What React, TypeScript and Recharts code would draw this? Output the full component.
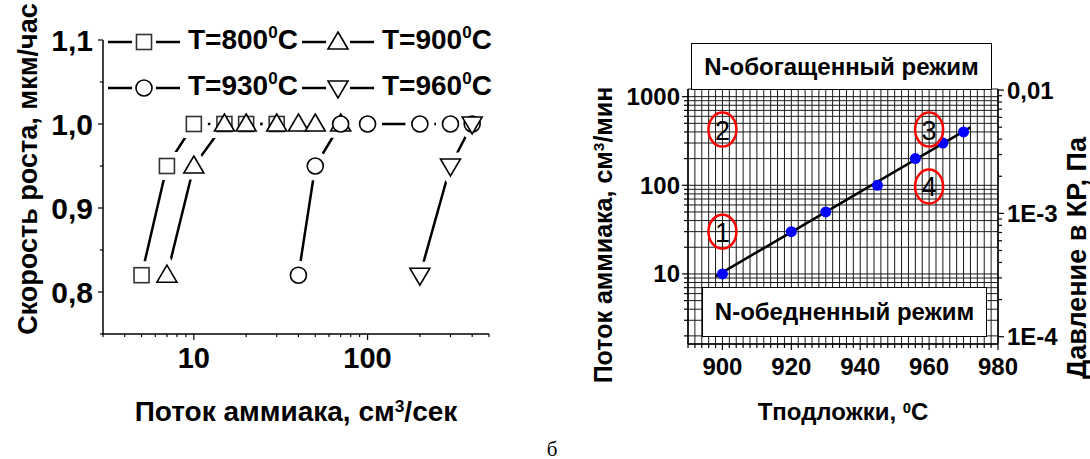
import React from 'react';
import { CartesianGrid, ComposedChart, Line, Scatter, XAxis, YAxis } from 'recharts';

const FONT = '"Liberation Sans", Arial, Helvetica, sans-serif';

// left panel: growth rate vs ammonia flow
const flow800 = [5, 7, 10, 15, 20, 30];
const rate800 = [0.82, 0.95, 1.0, 1.0, 1.0, 1.0];
const flow900 = [7, 10, 15, 20, 30, 40, 50, 70];
const rate900 = [0.82, 0.95, 1.0, 1.0, 1.0, 1.0, 1.0, 1.0];
const flow930 = [40, 50, 70, 100, 200, 300, 400];
const rate930 = [0.82, 0.95, 1.0, 1.0, 1.0, 1.0, 1.0];
const flow960 = [200, 300, 400];
const rate960 = [0.82, 0.95, 1.0];
const seriesTemps = ['800', '900', '930', '960'];

const flowTicks = [3, 4, 5, 6, 7, 8, 9, 10, 20, 30, 40, 50, 60, 70, 80, 90, 100, 200, 300, 400, 500];
const flowMajor = [10, 100];
const flowLabels = ['10', '100'];
const rateTicks = [0.75, 0.8, 0.85, 0.9, 0.95, 1.0, 1.05, 1.1];
const rateMajor = [0.8, 0.9, 1.0, 1.1];
const rateLabels = ['0,8', '0,9', '1,0', '1,1'];

// right panel: ammonia flow vs substrate temperature
const tempC = [900, 920, 930, 945, 956, 964, 970];
const nh3Flow = [10, 30, 50, 100, 200, 300, 400];
const fitTemp = [898, 972];
const fitFlow = [9.4, 450];
const regionNames = ['1', '2', '3', '4'];
const regionTemp = [900, 900, 960, 960];
const regionFlow = [30, 425, 425, 97];

const tempTicks = Array.from({ length: 46 }, (_, i) => 890 + i * 2);
const tempMajor = [900, 920, 940, 960, 980];
const tempLabels = ['900', '920', '940', '960', '980'];
const nh3Ticks = [2, 3, 4, 5, 6, 7, 8, 9, 10, 20, 30, 40, 50, 60, 70, 80, 90, 100, 200, 300, 400, 500, 600, 700, 800, 900, 1000];
const nh3Major = [10, 100, 1000];
const nh3Labels = ['10', '100', '1000'];
const presTicks = [
  1e-4, 2e-4, 3e-4, 4e-4, 5e-4, 6e-4, 7e-4, 8e-4, 9e-4,
  1e-3, 2e-3, 3e-3, 4e-3, 5e-3, 6e-3, 7e-3, 8e-3, 9e-3, 1e-2,
];
const presMajor = [1e-4, 1e-3, 1e-2];
const presLabels = ['1E-4', '1E-3', '0,01'];

const zip = (xs: number[], ys: number[]) => xs.map((x, i) => ({ x, y: ys[i] }));

const leftSeries = [
  { kind: 'square', data: zip(flow800, rate800) },
  { kind: 'tri', data: zip(flow900, rate900) },
  { kind: 'circle', data: zip(flow930, rate930) },
  { kind: 'itri', data: zip(flow960, rate960) },
];

type TickOpts = {
  side: 'left' | 'right' | 'bottom';
  major: number[];
  labels: string[];
  size: number;
  majorLen: number;
  minorLen: number;
  offset: number;
};

const near = (a: number, b: number) => Math.abs(a - b) <= Math.abs(b) * 1e-6;

function makeTick(o: TickOpts) {
  return (p: any) => {
    const { x, y, payload } = p;
    const i = o.major.findIndex((m) => near(payload.value, m));
    const len = i >= 0 ? o.majorLen : o.minorLen;
    const label = i >= 0 ? o.labels[i] : null;
    const txt = { fontFamily: FONT, fontWeight: 700, fontSize: o.size, fill: '#000' };
    if (o.side === 'bottom') {
      return (
        <g>
          <line x1={x} y1={y} x2={x} y2={y + len} stroke="#000" strokeWidth={1.2} />
          {label && (
            <text x={x} y={y + o.offset} textAnchor="middle" dominantBaseline="central" style={txt}>
              {label}
            </text>
          )}
        </g>
      );
    }
    const dir = o.side === 'left' ? -1 : 1;
    return (
      <g>
        <line x1={x} y1={y} x2={x + dir * len} y2={y} stroke="#000" strokeWidth={1.2} />
        {label && (
          <text
            x={x + dir * o.offset}
            y={y}
            textAnchor={dir < 0 ? 'end' : 'start'}
            dominantBaseline="central"
            style={txt}
          >
            {label}
          </text>
        )}
      </g>
    );
  };
}

function marker(kind: string, cx: number, cy: number, halo = false) {
  const st = halo
    ? { fill: '#fff', stroke: '#fff', strokeWidth: 13 }
    : { fill: '#fff', stroke: kind === 'square' ? '#333' : '#000', strokeWidth: 1.6 };
  if (kind === 'square') return <rect x={cx - 7.5} y={cy - 7.5} width={15} height={15} {...st} />;
  if (kind === 'circle') return <circle cx={cx} cy={cy} r={8} {...st} />;
  if (kind === 'tri')
    return <polygon points={`${cx},${cy - 10} ${cx + 10},${cy + 7} ${cx - 10},${cy + 7}`} {...st} />;
  return <polygon points={`${cx - 10},${cy - 7} ${cx + 10},${cy - 7} ${cx},${cy + 10}`} {...st} />;
}

function LegendItem({ kind, temp }: { kind: string; temp: string }) {
  return (
    <div style={{ display: 'flex', alignItems: 'center' }}>
      <svg width={72} height={24}>
        <line x1={0} y1={12} x2={24} y2={12} stroke="#000" strokeWidth={2.5} />
        <line x1={48} y1={12} x2={72} y2={12} stroke="#000" strokeWidth={2.5} />
        {marker(kind, 36, 12)}
      </svg>
      <span style={{ marginLeft: 8, width: 114 }}>
        T={temp}
        <sup style={{ fontSize: 17, verticalAlign: 0, position: 'relative', top: -11 }}>0</sup>C
      </span>
    </div>
  );
}

const titleStyle: React.CSSProperties = {
  position: 'absolute',
  fontFamily: FONT,
  fontWeight: 700,
  whiteSpace: 'nowrap',
  color: '#000',
  transform: 'translate(-50%, -50%)',
};
const sup: React.CSSProperties = { fontSize: '0.62em', position: 'relative', top: '-0.5em', verticalAlign: 0 };

function GrowthChart() {
  return (
    <div style={{ position: 'absolute', left: 0, top: 0, width: 540, height: 459 }}>
      <ComposedChart width={540} height={459} margin={{ top: 40, right: 51, bottom: 0, left: 0 }}>
        <XAxis
          dataKey="x"
          type="number"
          scale="log"
          domain={[3, 500]}
          allowDataOverflow
          ticks={flowTicks}
          interval={0}
          height={125}
          tickSize={0}
          tickMargin={0}
          tickLine={false}
          axisLine={{ stroke: '#000', strokeWidth: 1.5 }}
          tick={makeTick({ side: 'bottom', major: flowMajor, labels: flowLabels, size: 29, majorLen: 6, minorLen: 3, offset: 24 })}
        />
        <YAxis
          type="number"
          domain={[0.75, 1.1]}
          allowDataOverflow
          ticks={rateTicks}
          interval={0}
          width={103}
          tickSize={0}
          tickMargin={0}
          tickLine={false}
          axisLine={{ stroke: '#000', strokeWidth: 1.5 }}
          tick={makeTick({ side: 'left', major: rateMajor, labels: rateLabels, size: 30, majorLen: 5, minorLen: 3, offset: 10 })}
        />
        {leftSeries.map((s, i) => (
          <Line
            key={`l${i}`}
            data={s.data}
            dataKey="y"
            stroke="#000"
            strokeWidth={2.5}
            dot={false}
            isAnimationActive={false}
          />
        ))}
        {leftSeries.map((s, i) => (
          <Scatter
            key={`h${i}`}
            data={s.data}
            dataKey="y"
            isAnimationActive={false}
            shape={(p: any) => marker(s.kind, p.cx, p.cy, true)}
          />
        ))}
        {leftSeries.map((s, i) => (
          <Scatter
            key={`m${i}`}
            data={s.data}
            dataKey="y"
            isAnimationActive={false}
            shape={(p: any) => marker(s.kind, p.cx, p.cy)}
          />
        ))}
      </ComposedChart>
      <div
        style={{
          position: 'absolute',
          left: 108,
          top: 19,
          fontFamily: FONT,
          fontWeight: 700,
          fontSize: 28,
          lineHeight: '42px',
          display: 'grid',
          gridTemplateColumns: 'auto auto',
        }}
      >
        {leftSeries.map((s, i) => (
          <LegendItem key={i} kind={s.kind} temp={seriesTemps[i]} />
        ))}
      </div>
      <div style={{ ...titleStyle, left: 28, top: 169, fontSize: 27, transform: 'translate(-50%, -50%) rotate(-90deg)' }}>
        Скорость роста, мкм/час
      </div>
      <div style={{ ...titleStyle, left: 296, top: 412, fontSize: 28 }}>
        Поток аммиака, см<sup style={sup}>3</sup>/сек
      </div>
    </div>
  );
}

function RegionMark(p: any) {
  const { cx, cy, payload } = p;
  return (
    <g>
      <ellipse cx={cx} cy={cy} rx={14} ry={17} fill="none" stroke="#ff0000" strokeWidth={2.5} />
      <text
        x={cx}
        y={cy + 1}
        textAnchor="middle"
        dominantBaseline="central"
        style={{ fontFamily: FONT, fontSize: 27, fill: '#000' }}
      >
        {payload.name}
      </text>
    </g>
  );
}

function RegimeChart() {
  const points = zip(tempC, nh3Flow);
  const fit = zip(fitTemp, fitFlow);
  const regions = regionNames.map((name, i) => ({ name, x: regionTemp[i], y: regionFlow[i] }));
  const box: React.CSSProperties = {
    position: 'absolute',
    border: '1.5px solid #000',
    background: '#fff',
    boxSizing: 'border-box',
    display: 'flex',
    alignItems: 'center',
    justifyContent: 'center',
    fontFamily: FONT,
    fontWeight: 700,
    fontSize: 24,
    whiteSpace: 'nowrap',
  };
  return (
    <div style={{ position: 'absolute', left: 580, top: 0, width: 510, height: 459 }}>
      <ComposedChart width={510} height={459} margin={{ top: 89, right: 0, bottom: 0, left: 0 }}>
        <CartesianGrid yAxisId="flow" stroke="#1a1a1a" strokeWidth={1} />
        <XAxis
          dataKey="x"
          type="number"
          domain={[890, 980]}
          allowDataOverflow
          ticks={tempTicks}
          interval={0}
          height={115}
          tickSize={0}
          tickMargin={0}
          tickLine={false}
          axisLine={{ stroke: '#000', strokeWidth: 1.5 }}
          tick={makeTick({ side: 'bottom', major: tempMajor, labels: tempLabels, size: 24, majorLen: 6, minorLen: 4, offset: 22 })}
        />
        <YAxis
          yAxisId="flow"
          type="number"
          scale="log"
          domain={[1.62, 1220]}
          allowDataOverflow
          ticks={nh3Ticks}
          interval={0}
          width={108}
          tickSize={0}
          tickMargin={0}
          tickLine={false}
          axisLine={{ stroke: '#000', strokeWidth: 1.5 }}
          tick={makeTick({ side: 'left', major: nh3Major, labels: nh3Labels, size: 24, majorLen: 6, minorLen: 4, offset: 8 })}
        />
        <YAxis
          yAxisId="pres"
          orientation="right"
          type="number"
          scale="log"
          domain={[8.73e-5, 0.0102]}
          allowDataOverflow
          ticks={presTicks}
          interval={0}
          width={92}
          tickSize={0}
          tickMargin={0}
          tickLine={false}
          axisLine={{ stroke: '#000', strokeWidth: 1.5 }}
          tick={makeTick({ side: 'right', major: presMajor, labels: presLabels, size: 24, majorLen: 6, minorLen: 4, offset: 9 })}
        />
        <Line
          yAxisId="flow"
          data={fit}
          dataKey="y"
          stroke="#000"
          strokeWidth={2.5}
          dot={false}
          isAnimationActive={false}
        />
        <Scatter
          yAxisId="flow"
          data={points}
          dataKey="y"
          fill="#0000ff"
          isAnimationActive={false}
          shape={(p: any) => <circle cx={p.cx} cy={p.cy} r={5.5} fill="#0000ff" />}
        />
        <Scatter
          yAxisId="flow"
          data={regions}
          dataKey="y"
          isAnimationActive={false}
          shape={(p: any) => <RegionMark {...p} />}
        />
      </ComposedChart>
      <div style={{ ...box, left: 111, top: 43, width: 301, height: 47 }}>N-обогащенный режим</div>
      <div style={{ ...box, left: 122, top: 287, width: 285, height: 50 }}>N-обедненный режим</div>
      <div style={{ ...titleStyle, left: 23, top: 235, fontSize: 25, transform: 'translate(-50%, -50%) rotate(-90deg)' }}>
        Поток аммиака, см<sup style={sup}>3</sup>/мин
      </div>
      <div style={{ ...titleStyle, left: 497, top: 258, fontSize: 27, transform: 'translate(-50%, -50%) rotate(-90deg)' }}>
        Давление в КР, Па
      </div>
      <div style={{ ...titleStyle, left: 263, top: 412, fontSize: 24 }}>
        Tподложки, <sup style={sup}>0</sup>C
      </div>
    </div>
  );
}

export default function App() {
  return (
    <div style={{ position: 'absolute', left: 0, top: 0, width: 1090, height: 459, background: '#fff' }}>
      <GrowthChart />
      <RegimeChart />
      <div
        style={{
          position: 'absolute',
          left: 552,
          top: 449,
          transform: 'translate(-50%, -50%)',
          fontFamily: '"Liberation Serif", "DejaVu Serif", serif',
          fontSize: 21,
        }}
      >
        б
      </div>
    </div>
  );
}
